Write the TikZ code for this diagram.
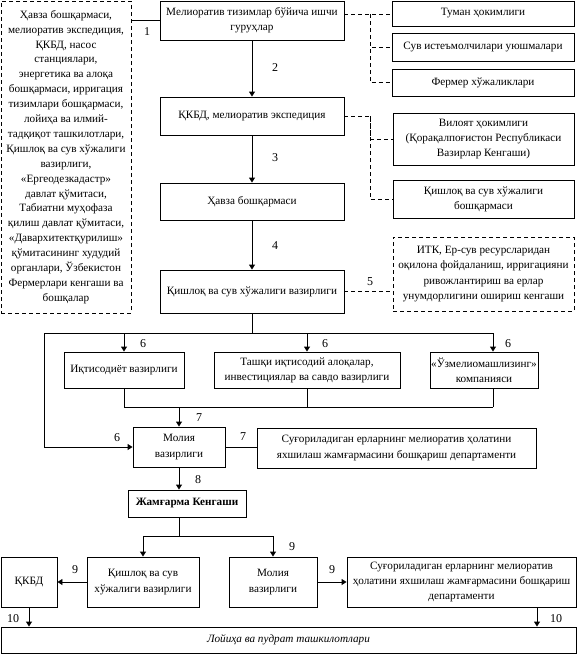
\documentclass[tikz,border=0pt]{standalone}
\usepackage{fontspec}
\setmainfont{Liberation Serif}
\usetikzlibrary{arrows.meta,calc}
\begin{document}
\begin{tikzpicture}[x=1pt,y=-1pt,
  box/.style={draw,line width=0.9pt,inner sep=0pt,align=center,font=\fontsize{11.2}{15.2}\selectfont},
  dbox/.style={box,dash pattern=on 4pt off 3pt},
  ln/.style={line width=0.9pt},
  dln/.style={line width=0.9pt,dash pattern=on 4pt off 3pt},
  arr/.style={ln,-{Triangle[length=5pt,width=6pt]}},
  num/.style={inner sep=0pt,font=\fontsize{12}{14}\selectfont}]
\useasboundingbox (0,0) rectangle (577,654);
% left dashed box
\node[dbox,minimum width=130,minimum height=312,font=\fontsize{11.2}{14.9}\selectfont] (L) at (66,157) {Ҳавза бошқармаси,\\мелиоратив экспедиция,\\ҚКБД, насос\\станциялари,\\энергетика ва алоқа\\бошқармаси, ирригация\\тизимлари бошқармаси,\\лойиҳа ва илмий-\\тадқиқот ташкилотлари,\\Қишлоқ ва сув хўжалиги\\вазирлиги,\\«Ергеодезкадастр»\\давлат қўмитаси,\\Табиатни муҳофаза\\қилиш давлат қўмитаси,\\«Давархитектқурилиш»\\қўмитасининг худудий\\органлари, Ўзбекистон\\Фермерлари кенгаши ва\\бошқалар};
% central column
\node[box,minimum width=184,minimum height=39] (b1) at (252,20.5) {Мелиоратив тизимлар бўйича ишчи\\гуруҳлар};
\node[box,minimum width=184,minimum height=38] (b2) at (252,116) {ҚКБД, мелиоратив экспедиция};
\node[box,minimum width=184,minimum height=37] (b3) at (252,201.5) {Ҳавза бошқармаси};
\node[box,minimum width=184,minimum height=43] (b4) at (252,291.5) {Қишлоқ ва сув хўжалиги вазирлиги};
% right boxes
\node[box,minimum width=182,minimum height=25] (r1) at (483,13.5) {Туман ҳокимлиги};
\node[box,minimum width=182,minimum height=28] (r2) at (483,47) {Сув истеъмолчилари уюшмалари};
\node[box,minimum width=182,minimum height=27] (r3) at (483,82.5) {Фермер хўжаликлари};
\node[box,minimum width=181,minimum height=52] (r4) at (483.5,139) {Вилоят ҳокимлиги\\(Қорақалпоғистон Республикаси\\Вазирлар Кенгаши)};
\node[box,minimum width=181,minimum height=38] (r5) at (483.5,199) {Қишлоқ ва сув хўжалиги\\бошқармаси};
\node[dbox,minimum width=181,minimum height=74] (r6) at (483.5,274) {ИТК, Ер-сув ресурсларидан\\оқилона фойдаланиш, ирригацияни\\ривожлантириш ва ерлар\\унумдорлигини ошириш кенгаши};
% middle row
\node[box,minimum width=120,minimum height=36] (m1) at (124,370) {Иқтисодиёт вазирлиги};
\node[box,minimum width=186,minimum height=36] (m2) at (307,370) {Ташқи иқтисодий алоқалар,\\инвестициялар ва савдо вазирлиги};
\node[box,minimum width=108,minimum height=36] (m3) at (484,370) {«Ўзмелиомашлизинг»\\компанияси};
\node[box,minimum width=92,minimum height=40] (mol) at (179,447) {Молия\\вазирлиги};
\node[box,minimum width=279,minimum height=40] (dep1) at (396.5,448) {Суғориладиган ерларнинг мелиоратив ҳолатини\\яхшилаш жамғармасини бошқариш департаменти};
\node[box,minimum width=118,minimum height=27,font=\fontsize{11.2}{15}\selectfont\bfseries] (jk) at (187,503.5) {Жамғарма Кенгаши};
% lower row
\node[box,minimum width=56,minimum height=50] (q) at (29,582) {ҚКБД};
\node[box,minimum width=112,minimum height=50] (qv) at (143,582) {Қишлоқ ва сув\\хўжалиги вазирлиги};
\node[box,minimum width=88,minimum height=50] (mol2) at (273,582) {Молия\\вазирлиги};
\node[box,minimum width=229,minimum height=50] (dep2) at (461.5,582) {Суғориладиган ерларнинг мелиоратив\\ҳолатини яхшилаш жамғармасини бошқариш\\департаменти};
\node[box,minimum width=575,minimum height=26,font=\fontsize{11.2}{15}\selectfont\itshape] (bot) at (288.5,640) {Лойиҳа ва пудрат ташкилотлари};
% coordinates
\coordinate (j1) at (370,14);
\coordinate (j2) at (370,116);
\coordinate (h6) at (252,333);
\coordinate (h6l) at (44,333);
\coordinate (h6r) at (493,333);
\coordinate (h7) at (179,407);
\coordinate (h7r) at (493,407);
\coordinate (h9) at (179,536);
\coordinate (d10) at (537,607);
% connectors top
\draw[ln] (b1.west -| L.east) -- (b1.west);
\draw[arr] (b1.south) -- (b2.north);
\draw[arr] (b2.south) -- (b3.north);
\draw[arr] (b3.south) -- (b4.north);
\draw[dln] (b1.east |- j1) -- (j1) -- (j1 -| r1.west);
\draw[dln] (j1) |- (r2.west);
\draw[dln] (j1) |- (r3.west);
\draw[dln] (b2.east) -- (j2) |- (r4.west);
\draw[dln] (j2) |- (r5.west);
\draw[dln] (b4.east) -- (b4.east -| r6.west);
% level 6
\draw[ln] (b4.south) -- (h6);
\draw[ln] (h6l) -- (h6r);
\draw[arr] (h6l -| m1.north) -- (m1.north);
\draw[arr] (h6l -| m2.north) -- (m2.north);
\draw[arr] (h6r) -- (h6r |- m3.north);
\draw[arr] (h6l) |- (mol.west);
% level 7
\draw[ln] (m1.south) -- (m1.south |- h7);
\draw[ln] (m2.south) -- (m2.south |- h7);
\draw[ln] (h6r |- m3.south) -- (h7r);
\draw[ln] (m1.south |- h7) -- (h7r);
\draw[arr] (h7) -- (mol.north);
\draw[ln] (mol.east) -- (mol.east -| dep1.west);
% level 8
\draw[arr] (mol.south) -- (mol.south |- jk.north);
\draw[ln] (mol.south |- jk.south) -- (h9);
\draw[ln] (h9 -| qv.north) -- (h9 -| mol2.north);
\draw[arr] (h9 -| qv.north) -- (qv.north);
\draw[arr] (h9 -| mol2.north) -- (mol2.north);
\draw[arr] (qv.west) -- (q.east);
\draw[arr] (mol2.east) -- (dep2.west);
\draw[arr] (q.south) -- (q.south |- bot.north);
\draw[arr] (d10) -- (d10 |- bot.north);
% numbers
\node[num] (n1) at (147,32) {1};
\node[num] (n2) at (275,68) {2};
\node[num] (n3) at (275,158) {3};
\node[num] (n4) at (275,246) {4};
\node[num] (n5) at (370,282) {5};
\node[num] (n6a) at (143,344) {6};
\node[num] (n6b) at (325,344) {6};
\node[num] (n6c) at (508,344) {6};
\node[num] (n6d) at (117,438) {6};
\node[num] (n7a) at (199,418) {7};
\node[num] (n7b) at (243,437) {7};
\node[num] (n8) at (198,480) {8};
\node[num] (n9a) at (292,547) {9};
\node[num] (n9b) at (75,570) {9};
\node[num] (n9c) at (332,570) {9};
\node[num] (n10a) at (13,619) {10};
\node[num] (n10b) at (556,619) {10};
\end{tikzpicture}
\end{document}
